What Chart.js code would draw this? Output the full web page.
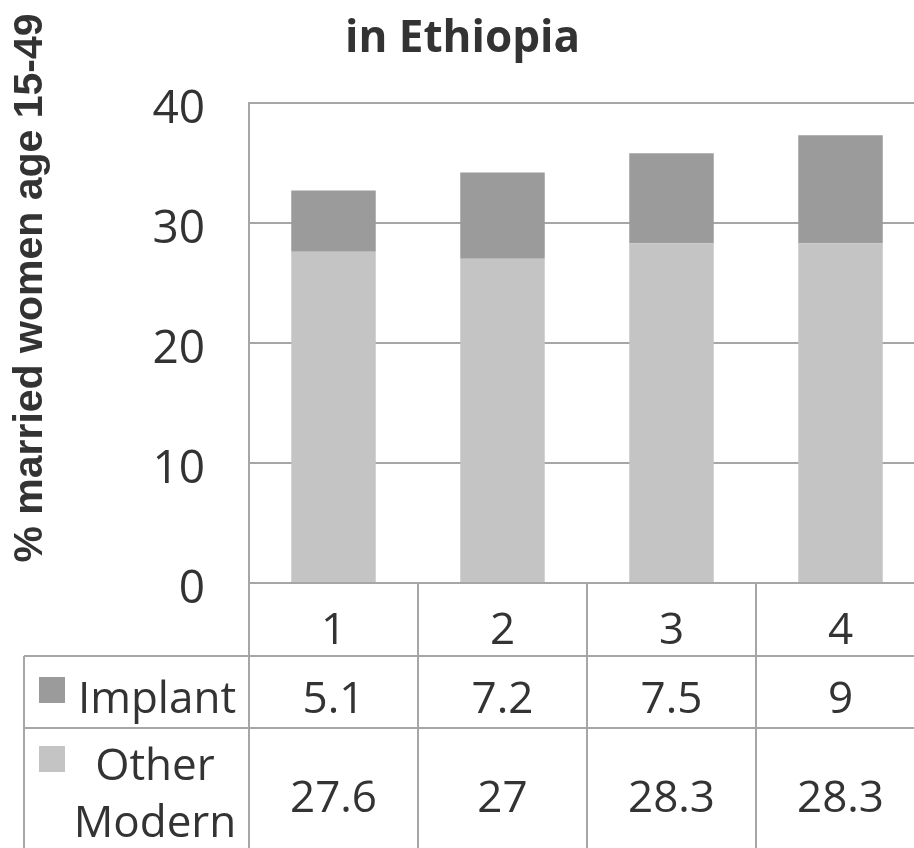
<!DOCTYPE html>
<html>
<head>
<meta charset="utf-8">
<script src="https://cdn.jsdelivr.net/npm/chart.js@4.4.1/dist/chart.umd.min.js"></script>
<style>
    html, body { margin: 0; padding: 0; overflow: hidden; background: #fff; }
    #wrap { width: 914px; height: 848px; overflow: hidden; position: relative; }
    #wrap canvas { position: absolute; left: 0; top: 0; }
</style>
</head>
<body>
<div id="wrap"><canvas id="chart" width="940" height="848"></canvas></div>
<script>
// Implant vs other modern methods, married women 15-49

const categories = ['1', '2', '3', '4'];
const implant = [5.1, 7.2, 7.5, 9];
const otherModern = [27.6, 27, 28.3, 28.3];
const seriesNames = ['Implant', 'Other Modern'];
const yTicks = [0, 10, 20, 30, 40];

const lineColor = '#a6a6a6';
const textColor = '#333333';
const implantColor = '#9b9b9b';
const otherColor = '#c4c4c4';
const bodyFont = '"Open Sans", "Noto Sans", sans-serif';

// draws the rotated y title and the data table under the x axis
const tablePlugin = {
    id: 'dataTable',
    afterDraw(chart) {
        const ctx = chart.ctx;
        const area = chart.chartArea;
        const x = chart.scales.x;
        const colW = x.width / categories.length;

        const bottom = area.bottom;
        const row1Top = x.bottom;
        const row2Top = row1Top + 72;
        const row2Bottom = row2Top + 134;
        const tableLeft = 24;

        ctx.save();
        ctx.strokeStyle = lineColor;
        ctx.lineWidth = 2;
        ctx.beginPath();
        for (let i = 0; i <= categories.length; i++) {
            const px = Math.round(x.left + i * colW);
            ctx.moveTo(px, bottom);
            ctx.lineTo(px, row2Bottom);
        }
        [row1Top, row2Top, row2Bottom].forEach(y => {
            ctx.moveTo(tableLeft, y);
            ctx.lineTo(x.right, y);
        });
        ctx.moveTo(tableLeft, row1Top);
        ctx.lineTo(tableLeft, row2Bottom);
        ctx.stroke();

        // legend keys
        ctx.fillStyle = implantColor;
        ctx.fillRect(39, row1Top + 21, 26, 26);
        ctx.fillStyle = otherColor;
        ctx.fillRect(39, row2Top + 18, 26, 26);

        // row labels
        ctx.fillStyle = textColor;
        ctx.font = '44px ' + bodyFont;
        ctx.textAlign = 'center';
        ctx.textBaseline = 'alphabetic';
        ctx.fillText(seriesNames[0], 157, row1Top + 57);
        ctx.fillText('Other', 155, row2Top + 52);
        ctx.fillText('Modern', 155, row2Top + 109);

        // values
        categories.forEach((c, i) => {
            const cx = x.getPixelForValue(i);
            ctx.fillText(String(implant[i]), cx, row1Top + 57);
            ctx.fillText(String(otherModern[i]), cx, row2Top + 84);
        });

        // y axis title
        ctx.translate(42, 288);
        ctx.rotate(-Math.PI / 2);
        ctx.font = 'bold 41px "Liberation Sans", Arial, sans-serif';
        ctx.textAlign = 'center';
        ctx.fillText('% married women age 15-49', 0, 0);
        ctx.restore();
    }
};

const chart = new Chart(document.getElementById('chart'), {
    type: 'bar',
    data: {
        labels: categories,
        datasets: [
            {
                label: seriesNames[1],
                data: otherModern,
                backgroundColor: otherColor,
                barPercentage: 0.5,
                categoryPercentage: 1
            },
            {
                label: seriesNames[0],
                data: implant,
                backgroundColor: implantColor,
                barPercentage: 0.5,
                categoryPercentage: 1
            }
        ]
    },
    options: {
        responsive: false,
        animation: false,
        layout: { padding: { left: 0, right: 15, top: 0, bottom: 192 } },
        plugins: {
            legend: { display: false },
            tooltip: { enabled: false },
            title: {
                display: true,
                text: 'in Ethiopia',
                color: textColor,
                font: { family: bodyFont, size: 44, weight: 'bold', lineHeight: 1.2 },
                padding: { top: 13, bottom: 37 }
            }
        },
        scales: {
            x: {
                stacked: true,
                grid: { display: false, drawTicks: false },
                border: { display: true, color: lineColor, width: 2 },
                ticks: { color: textColor, font: { family: bodyFont, size: 44 }, padding: 22 },
                afterFit(scale) { scale.height = 73; }
            },
            y: {
                stacked: true,
                min: yTicks[0],
                max: yTicks[yTicks.length - 1],
                afterBuildTicks(scale) { scale.ticks = yTicks.map(v => ({ value: v })); },
                grid: { color: lineColor, lineWidth: 2, drawTicks: false },
                border: { display: true, color: lineColor, width: 2 },
                ticks: { color: textColor, font: { family: bodyFont, size: 46 }, padding: 44, labelOffset: 7 },
                afterFit(scale) { scale.width = 249; }
            }
        }
    },
    plugins: [tablePlugin]
});
</script>
</body>
</html>
